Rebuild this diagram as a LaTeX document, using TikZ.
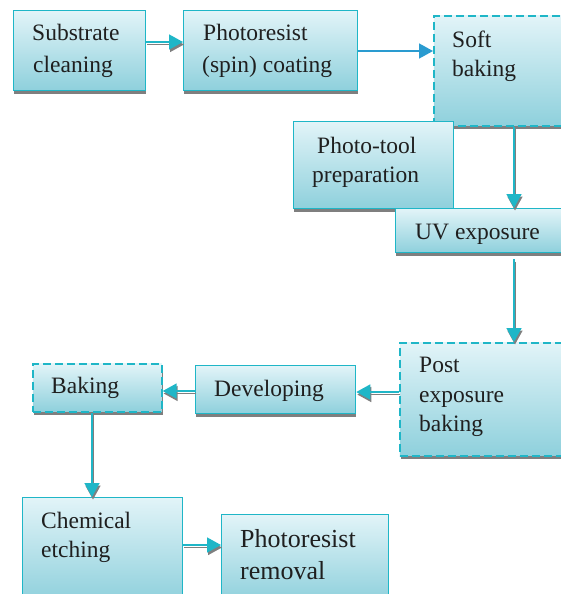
\documentclass[tikz,border=0pt]{standalone}
\usepackage{fontspec}
\setmainfont{Liberation Serif}
\usetikzlibrary{arrows.meta,shadows}
\definecolor{tealb}{HTML}{1FB6C7}
\definecolor{filltop}{HTML}{E2F4F8}
\definecolor{fillbot}{HTML}{8ED0DC}
\definecolor{arblue}{HTML}{2A9BD0}
\definecolor{shad}{HTML}{7F7F7F}
\tikzset{
  box/.style={draw=tealb, line width=1.3pt, top color=filltop, bottom color=fillbot,
    inner sep=0pt, anchor=north west,
    drop shadow={shadow xshift=0.8pt, shadow yshift=-3pt, fill=shad, opacity=1}},
  dbox/.style={box, line width=1.7pt, dash pattern=on 8pt off 4pt},
  lbl/.style={anchor=base west, inner sep=0pt, font=\fontsize{23.5}{30}\selectfont, text=black!88},
  lblbig/.style={lbl, font=\fontsize{26}{32}\selectfont},
  flow/.style={draw=tealb, line width=1.6pt, -{Triangle[width=15pt,length=14pt]},
    preaction={draw=shad, line width=1.6pt, -{Triangle[width=15pt,length=14pt]}, transform canvas={xshift=1pt,yshift=-2.5pt}}},
  bflow/.style={draw=arblue, line width=1.6pt, -{Triangle[width=15pt,length=14pt]}},
}
\begin{document}
\begin{tikzpicture}[x=1pt,y=-1pt]
\useasboundingbox (0,0) rectangle (561,594);
% boxes
\node[box, minimum width=132pt, minimum height=80pt] (b1) at (13,10) {};
\node[box, minimum width=174pt, minimum height=80pt] (b2) at (183,10) {};
\node[dbox, minimum width=140pt, minimum height=110pt] (b3) at (433,15) {};
\node[box, minimum width=160pt, minimum height=87pt] (b4) at (293,121) {};
\node[box, minimum width=180pt, minimum height=44pt] (b5) at (395,208) {};
\node[dbox, minimum width=175pt, minimum height=113pt] (b6) at (399,342) {};
\node[box, minimum width=160pt, minimum height=48pt] (b7) at (195,365) {};
\node[dbox, minimum width=129pt, minimum height=48pt] (b8) at (32,363) {};
\node[box, minimum width=160pt, minimum height=105pt] (b9) at (22,497) {};
\node[box, minimum width=167pt, minimum height=88pt] (b10) at (221,514) {};
% labels
\node[lbl] (t1a) at (32,41) {Substrate};
\node[lbl] (t1b) at (33,72) {cleaning};
\node[lbl] (t2a) at (203,41) {Photoresist};
\node[lbl] (t2b) at (202,72) {(spin) coating};
\node[lbl] (t3a) at (452,48) {Soft};
\node[lbl] (t3b) at (452,77) {baking};
\node[lbl] (t4a) at (317,153) {Photo-tool};
\node[lbl] (t4b) at (312,182) {preparation};
\node[lbl] (t5) at (415,239) {UV exposure};
\node[lbl] (t6a) at (419,372) {Post};
\node[lbl] (t6b) at (419,402) {exposure};
\node[lbl] (t6c) at (419,431) {baking};
\node[lbl] (t7) at (214,396) {Developing};
\node[lbl] (t8) at (51,393) {Baking};
\node[lbl] (t9a) at (41,528) {Chemical};
\node[lbl] (t9b) at (41,557) {etching};
\node[lblbig] (t10a) at (240,547) {Photoresist};
\node[lblbig] (t10b) at (240,579) {removal};
% connectors
\draw[flow] (b1.east |- 0,42) -- (b2.west |- 0,42);
\draw[bflow] (b2.east |- 0,51) -- (b3.west |- 0,51);
\draw[flow] (b3.south -| 514,0) -- (b5.north -| 514,0);
\draw[flow] (b5.south -| 514,0) ++(0,6) -- (b6.north -| 514,0);
\draw[flow] (b6.west |- 0,392) -- (b7.east |- 0,392);
\draw[flow] (b7.west |- 0,391) -- (b8.east |- 0,391);
\draw[flow] (b8.south -| 92,0) -- (b9.north -| 92,0);
\draw[flow] (b9.east |- 0,545) -- (b10.west |- 0,545);
\end{tikzpicture}
\end{document}
